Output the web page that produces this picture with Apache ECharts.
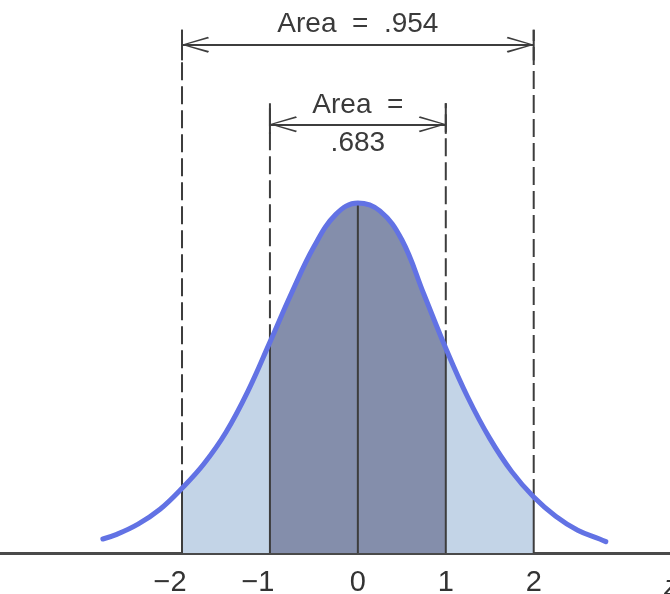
<!DOCTYPE html>
<html>
<head>
<meta charset="utf-8">
<style>
  html, body { margin: 0; padding: 0; background: #fff; }
  #chart { width: 670px; height: 594px; }
</style>
<script src="https://cdn.jsdelivr.net/npm/echarts@6/dist/echarts.min.js"></script>
</head>
<body>
<div id="chart"></div>
<script>
// curve (z, height)
const zValues = [-2.9, -2.75, -2.5, -2.25, -2.0, -1.75, -1.5, -1.25, -1.0, -0.75, -0.5, -0.25, 0,
  0.25, 0.5, 0.75, 1.0, 1.25, 1.5, 1.75, 2.0, 2.25, 2.5, 2.75, 2.82]
const heights = [0.016, 0.021, 0.033, 0.050, 0.074, 0.102, 0.138, 0.185, 0.241, 0.298, 0.350, 0.387, 0.400,
  0.391, 0.358, 0.296, 0.234, 0.178, 0.131, 0.093, 0.064, 0.042, 0.026, 0.016, 0.013]

const tickLabels = [-2, -1, 0, 1, 2]
const bounds = [-2, -1, 0, 1, 2]
// top of each vertical guide (0 means none above the curve)
const guideTops = [0.598, 0.514, 0, 0.514, 0.598]

const outerArea = { from: -2, to: 2, y: 0.581, top: 'Area  =  .954' }
const innerArea = { from: -1, to: 1, y: 0.490, top: 'Area  =', bottom: '.683' }

const curve = zValues.map((z, i) => [z, heights[i]])
const heightAt = z => heights[zValues.indexOf(z)]
const segment = (a, b) => curve.filter(p => p[0] >= a && p[0] <= b)

const lineColor = '#3d3d3d'
const textColor = '#3a3a3a'
// open chevron; a speck at the top keeps the tip at the centre of the box
const chevron = 'path://M10,0 L10.01,0 L10,0.01 Z M10,26 L20,52 L18,53 L10,30 L2,53 L0,52 Z'

const series = []

const fills = [
  { a: -2, b: -1, color: '#c3d4e7' },
  { a: -1, b: 1, color: '#848eab' },
  { a: 1, b: 2, color: '#c3d4e7' }
]
fills.forEach(f => {
  series.push({
    type: 'line',
    data: segment(f.a, f.b),
    smooth: 0.4,
    showSymbol: false,
    lineStyle: { width: 0 },
    areaStyle: { color: f.color, opacity: 1 },
    z: 1,
    silent: true
  })
})

bounds.forEach((b, i) => {
  const h = heightAt(b)
  series.push({
    type: 'line',
    data: [[b, 0], [b, h]],
    showSymbol: false,
    lineStyle: { color: lineColor, width: 2 },
    z: 2,
    silent: true
  })
  if (guideTops[i] > 0) {
    series.push({
      type: 'line',
      data: [[b, h], [b, guideTops[i]]],
      showSymbol: false,
      lineStyle: { color: lineColor, width: 2, type: [18, 6] },
      z: 2,
      silent: true
    })
    series.push({
      type: 'line',
      data: [[b, guideTops[i] - 0.035], [b, guideTops[i]]],
      showSymbol: false,
      lineStyle: { color: lineColor, width: 2 },
      z: 2,
      silent: true
    })
  }
})

const arrowLine = (area, label) => [
  { coord: [area.from, area.y], label: label },
  { coord: [area.to, area.y] }
]
const textOnly = (area, label) => [
  { coord: [area.from, area.y], label: label, lineStyle: { width: 0, color: 'rgba(0,0,0,0)' }, symbol: 'none' },
  { coord: [area.to, area.y], symbol: 'none' }
]

series.push({
  type: 'line',
  data: curve,
  smooth: 0.4,
  showSymbol: false,
  lineStyle: { color: '#6272e4', width: 5, cap: 'round' },
  z: 5,
  silent: true,
  markLine: {
    silent: true,
    symbol: [chevron, chevron],
    symbolSize: [16, 54],
    lineStyle: { color: lineColor, width: 2, type: 'solid' },
    label: { color: textColor, fontFamily: 'Liberation Sans', fontSize: 28 },
    data: [
      arrowLine(outerArea, { position: 'insideMiddleTop', distance: 6, formatter: outerArea.top }),
      arrowLine(innerArea, { position: 'insideMiddleTop', distance: 5, formatter: innerArea.top }),
      textOnly(innerArea, { position: 'insideMiddleBottom', distance: 5, formatter: innerArea.bottom })
    ]
  }
})

const chart = echarts.init(document.getElementById('chart'))
chart.setOption({
  animation: false,
  grid: { left: 0, right: 0, top: 0, bottom: 41, outerBoundsMode: 'none' },
  xAxis: {
    type: 'value',
    min: -4.07,
    max: 3.55,
    name: 'z',
    nameLocation: 'end',
    nameGap: -6,
    nameTextStyle: {
      fontFamily: 'Liberation Sans', fontStyle: 'italic', fontSize: 28, color: '#333',
      verticalAlign: 'top', padding: [20, 0, 0, 0], align: 'left'
    },
    axisLine: { lineStyle: { color: '#4a4a4a', width: 3 } },
    axisTick: { show: false },
    splitLine: { show: false },
    axisLabel: {
      customValues: tickLabels,
      margin: 15,
      color: '#333',
      fontFamily: 'Liberation Sans',
      fontSize: 29,
      formatter: v => v < 0 ? '{n|\u2212' + Math.abs(v) + '}' : String(v),
      rich: { n: { fontFamily: 'Liberation Sans', fontSize: 29, color: '#333', padding: [0, 24, 0, 0] } }
    }
  },
  yAxis: {
    type: 'value',
    min: 0,
    max: 0.632,
    show: false,
    splitLine: { show: false }
  },
  series: series
})
</script>
</body>
</html>
